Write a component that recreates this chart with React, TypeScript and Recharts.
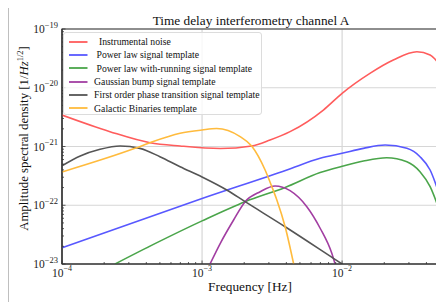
import React from 'react';
import { LineChart, Line, XAxis, YAxis, CartesianGrid, ReferenceArea } from 'recharts';

// Instrumental noise (TDI channel A)
const noiseFreq = [1e-4, 2.2e-4, 4.25e-4, 6.97e-4, 1.35e-3, 2.26e-3, 3.06e-3, 4.25e-3, 7.35e-3, 1e-2, 1.58e-2, 2.32e-2, 3.42e-2, 4.25e-2, 5e-2];
const noiseAsd = [3.42e-21, 1.79e-21, 1.16e-21, 1.02e-21, 9.24e-22, 1.02e-21, 1.29e-21, 1.79e-21, 4.18e-21, 8.05e-21, 1.76e-20, 2.97e-20, 4.11e-20, 3.6e-20, 2.45e-20];

// Power law
const plFreq = [1e-4, 1e-3, 4.03e-3, 6.97e-3, 1e-2, 1.42e-2, 2.03e-2, 2.9e-2, 3.6e-2, 4.25e-2, 5e-2];
const plAsd = [1.89e-23, 1.3e-22, 3.98e-22, 6.3e-22, 7.65e-22, 9.3e-22, 1.06e-21, 9.3e-22, 6.7e-22, 3.98e-22, 1.4e-22];

// Power law with running
const runFreq = [2.39e-4, 4.61e-4, 1e-3, 2.03e-3, 3.92e-3, 6.97e-3, 1e-2, 1.42e-2, 2.08e-2, 2.9e-2, 3.6e-2, 4.25e-2, 5e-2];
const runAsd = [1e-23, 2.22e-23, 5.42e-23, 1.15e-22, 2.01e-22, 3.6e-22, 4.6e-22, 5.66e-22, 6.45e-22, 5.5e-22, 3.72e-22, 2.07e-22, 7.7e-23];

// Gaussian bump
const bumpFreq = [1.14e-3, 1.35e-3, 1.68e-3, 2.03e-3, 2.6e-3, 3.32e-3, 4.25e-3, 5.6e-3, 6.97e-3, 8.44e-3, 8.91e-3];
const bumpAsd = [1e-23, 2.25e-23, 5.61e-23, 1.15e-22, 1.7e-22, 2.13e-22, 1.77e-22, 9.44e-23, 4.06e-23, 1.52e-23, 1e-23];

// First order phase transition
const ptFreq = [1e-4, 1.35e-4, 1.87e-4, 2.6e-4, 3.6e-4, 5e-4, 6.97e-4, 1e-3, 1.5e-3, 2.03e-3, 3.92e-3, 8.67e-3, 1e-2];
const ptAsd = [4.7e-22, 6.9e-22, 8.95e-22, 1.02e-21, 9.3e-22, 6.7e-22, 4.53e-22, 3.03e-22, 1.82e-22, 1.15e-22, 4.31e-23, 1.25e-23, 1e-23];

// Galactic binaries
const gbFreq = [1e-4, 3.32e-4, 4.25e-4, 6.97e-4, 1e-3, 1.27e-3, 1.87e-3, 2.26e-3, 2.82e-3, 3.15e-3, 3.42e-3, 3.92e-3, 4.51e-3];
const gbAsd = [3.68e-22, 9.3e-22, 1.16e-21, 1.68e-21, 1.91e-21, 2.02e-21, 1.47e-21, 1.02e-21, 3.98e-22, 2.07e-22, 1.23e-22, 4.31e-23, 1e-23];

const xMajor = [1e-4, 1e-3, 1e-2];
const yMajor = [1e-23, 1e-22, 1e-21, 1e-20, 1e-19];
const minorMantissa = [2, 3, 4, 5, 6, 7, 8, 9];

const xTicks = [...xMajor, ...xMajor.flatMap((d) => minorMantissa.map((m) => m * d)).filter((v) => v < 0.05)];
const yTicks = [...yMajor, ...yMajor.slice(0, 4).flatMap((d) => minorMantissa.map((m) => m * d))];

const series = [
  { name: '  Instrumental noise', color: '#ff5c5c', f: noiseFreq, v: noiseAsd },
  { name: ' Power law signal template', color: '#5858ff', f: plFreq, v: plAsd },
  { name: ' Power law with-running signal template', color: '#4aa54a', f: runFreq, v: runAsd },
  { name: 'Gaussian bump signal template', color: '#a23ea2', f: bumpFreq, v: bumpAsd },
  { name: 'First order phase transition signal template', color: '#555555', f: ptFreq, v: ptAsd },
  { name: 'Galactic Binaries template', color: '#ffbb3d', f: gbFreq, v: gbAsd },
];

const FONT = '"Liberation Serif", "Times New Roman", serif';

const isMajor = (v: number) => Math.abs(Math.log10(v) - Math.round(Math.log10(v))) < 1e-6;
const expText = (v: number) => {
  const e = Math.round(Math.log10(v));
  return (e < 0 ? '\u2212' : '') + Math.abs(e);
};

const XTick = (props: any) => {
  const { x, y, payload } = props;
  const major = isMajor(payload.value);
  return (
    <g>
      <line x1={x} x2={x} y1={y} y2={y - (major ? 3.5 : 2)} stroke="#333" strokeWidth={0.8} />
      {major && (
        <text x={x} y={y + 12.5} textAnchor="middle" fill="#222" fontFamily={FONT}>
          <tspan fontSize={11.5}>10</tspan>
          <tspan fontSize={8} dy={-5.5}>{expText(payload.value)}</tspan>
        </text>
      )}
    </g>
  );
};

const YTick = (props: any) => {
  const { x, y, payload } = props;
  const major = isMajor(payload.value);
  return (
    <g>
      <line x1={x} x2={x + (major ? 3.5 : 2)} y1={y} y2={y} stroke="#333" strokeWidth={0.8} />
      {major && (
        <text x={x - 4} y={y + 4} textAnchor="end" fill="#222" fontFamily={FONT}>
          <tspan fontSize={11.5}>10</tspan>
          <tspan fontSize={8.5} dy={-5.5}>{expText(payload.value)}</tspan>
        </text>
      )}
    </g>
  );
};

// everything below is laid out in page coordinates (wrapper shifted over the body margin)
export default function App() {
  return (
    <div style={{ position: 'relative', left: -8, top: -8, width: 444, height: 302, fontFamily: FONT }}>
      <LineChart width={444} height={302} margin={{ top: 29, right: 4, bottom: 8, left: 8 }}>
        <CartesianGrid stroke="#d6d6d6" strokeWidth={1.2} verticalValues={xMajor} horizontalValues={yMajor} />
        <XAxis
          dataKey="f"
          type="number"
          scale="log"
          domain={[1e-4, 0.05]}
          allowDataOverflow
          ticks={xTicks}
          interval={0}
          height={30}
          tickSize={0}
          tickMargin={0}
          tickLine={false}
          axisLine={{ stroke: '#333', strokeWidth: 1.2 }}
          tick={(p: any) => <XTick {...p} />}
        />
        <YAxis
          type="number"
          scale="log"
          domain={[1e-23, 1e-19]}
          allowDataOverflow
          ticks={yTicks}
          interval={0}
          width={54}
          tickSize={0}
          tickMargin={0}
          tickLine={false}
          axisLine={{ stroke: '#333', strokeWidth: 1.2 }}
          tick={(p: any) => <YTick {...p} />}
        />
        <ReferenceArea
          x1={1e-4}
          x2={0.05}
          y1={1e-23}
          y2={1e-19}
          fill="none"
          fillOpacity={0}
          stroke="#333"
          strokeWidth={1.2}
          ifOverflow="visible"
        />
        {series.map((s) => (
          <Line
            key={s.name}
            data={s.f.map((f, i) => ({ f, v: s.v[i] }))}
            dataKey="v"
            type="monotone"
            stroke={s.color}
            strokeWidth={1.6}
            dot={false}
            isAnimationActive={false}
          />
        ))}
      </LineChart>
      <div
        style={{
          position: 'absolute',
          left: 63,
          top: 32,
          width: 199,
          height: 83,
          boxSizing: 'border-box',
          border: '1px solid #dcdcdc',
          borderRadius: 3,
          background: 'rgba(255,255,255,0.8)',
          paddingTop: 2,
        }}
      >
        {series.map((s) => (
          <div key={s.name} style={{ display: 'flex', alignItems: 'center', height: 13.3 }}>
            <svg width={23.5} height={6} style={{ flex: 'none', display: 'block' }}>
              <line x1={5} x2={23.5} y1={3} y2={3} stroke={s.color} strokeWidth={1.8} />
            </svg>
            <span style={{ marginLeft: 6.6, fontSize: 9.7, color: '#111', whiteSpace: 'pre', lineHeight: '13px' }}>
              {s.name}
            </span>
          </div>
        ))}
      </div>
      <svg
        width={444}
        height={302}
        style={{ position: 'absolute', left: 0, top: 0, pointerEvents: 'none' }}
        fontFamily={FONT}
      >
        <line x1={7} y1={5.5} x2={444} y2={5.5} stroke="#000" strokeWidth={1.5} />
        <line x1={7.5} y1={5} x2={7.5} y2={302} stroke="#000" strokeWidth={1.5} />
        <text x={251} y={25} textAnchor="middle" fontSize={13.3} fill="#111">
          Time delay interferometry channel A
        </text>
        <text x={250} y={290.5} textAnchor="middle" fontSize={13.3} fill="#111">
          Frequency [Hz]
        </text>
        <text x={28} y={138.5} textAnchor="middle" fontSize={12.8} fill="#111" transform="rotate(-90 28 138.5)">
          Amplitude spectral density [1/<tspan fontStyle="italic">Hz</tspan>
          <tspan fontSize={8.5} dy={-5}>1/2</tspan>
          <tspan dy={5}>]</tspan>
        </text>
      </svg>
    </div>
  );
}
